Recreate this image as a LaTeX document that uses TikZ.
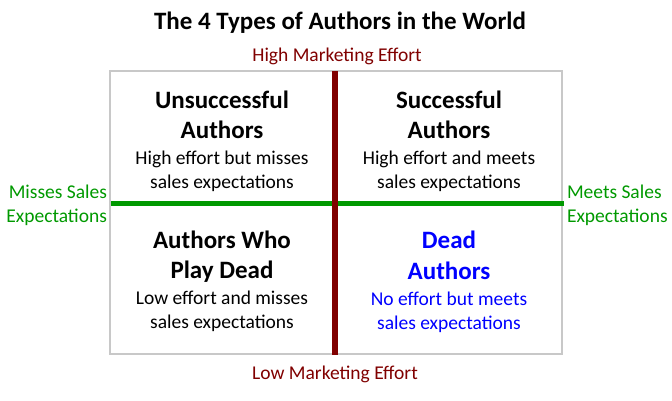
\documentclass[tikz,border=0pt]{standalone}
\usepackage{fontspec}
\setmainfont{Carlito}
\definecolor{axisred}{RGB}{128,0,0}
\definecolor{axisgreen}{RGB}{0,153,0}
\definecolor{deadblue}{RGB}{0,0,255}
\definecolor{boxgray}{RGB}{200,200,200}
\begin{document}
\begin{tikzpicture}[x=1pt,y=-1pt,
  every node/.style={inner sep=0pt,outer sep=0pt},
  titletext/.style={font=\fontsize{25}{30}\selectfont\bfseries,anchor=base},
  headtext/.style={font=\fontsize{25}{30}\selectfont\bfseries,anchor=base},
  bodytext/.style={font=\fontsize{19.5}{24}\selectfont,anchor=base},
  efforttext/.style={font=\fontsize{19.5}{24}\selectfont,text=axisred,anchor=base},
  salestext/.style={font=\fontsize{19.5}{24}\selectfont,text=axisgreen},
]
\useasboundingbox (0,0) rectangle (672,400);
% frame
\node[draw=boxgray,line width=1.5pt,minimum width=452pt,minimum height=283pt,anchor=north west] (frame) at (110,71) {};
% axes
\coordinate (hl) at (111,203.5);
\coordinate (hr) at (564,203.5);
\coordinate (vt) at (335,71);
\coordinate (vb) at (335,355);
\draw[axisgreen,line width=5pt] (hl) -- (hr);
\draw[axisred,line width=6pt] (vt) -- (vb);
% title
\node[titletext] (title) at (340,29) {The 4 Types of Authors in the World};
\node[efforttext] (high) at (337,61) {High Marketing Effort};
\node[efforttext] (low) at (335,379) {Low Marketing Effort};
% side labels
\node[salestext,anchor=base east] (miss1) at (107,198) {Misses Sales};
\node[salestext,anchor=base east] (miss2) at (107,222) {Expectations};
\node[salestext,anchor=base west] (meet1) at (567,198) {Meets Sales};
\node[salestext,anchor=base west] (meet2) at (567,222) {Expectations};
% top left
\node[headtext] (ul1) at (222,108) {Unsuccessful};
\node[headtext] (ul2) at (222,138) {Authors};
\node[bodytext] (ul3) at (222,164) {High effort but misses};
\node[bodytext] (ul4) at (222,188) {sales expectations};
% top right
\node[headtext] (ur1) at (449,108) {Successful};
\node[headtext] (ur2) at (449,138) {Authors};
\node[bodytext] (ur3) at (449,164) {High effort and meets};
\node[bodytext] (ur4) at (449,188) {sales expectations};
% bottom left
\node[headtext] (ll1) at (222,248) {Authors Who};
\node[headtext] (ll2) at (222,278) {Play Dead};
\node[bodytext] (ll3) at (222,304) {Low effort and misses};
\node[bodytext] (ll4) at (222,328) {sales expectations};
% bottom right
\node[headtext,text=deadblue] (lr1) at (449,248) {Dead};
\node[headtext,text=deadblue] (lr2) at (449,279) {Authors};
\node[bodytext,text=deadblue] (lr3) at (449,305) {No effort but meets};
\node[bodytext,text=deadblue] (lr4) at (449,329) {sales expectations};
\end{tikzpicture}
\end{document}
